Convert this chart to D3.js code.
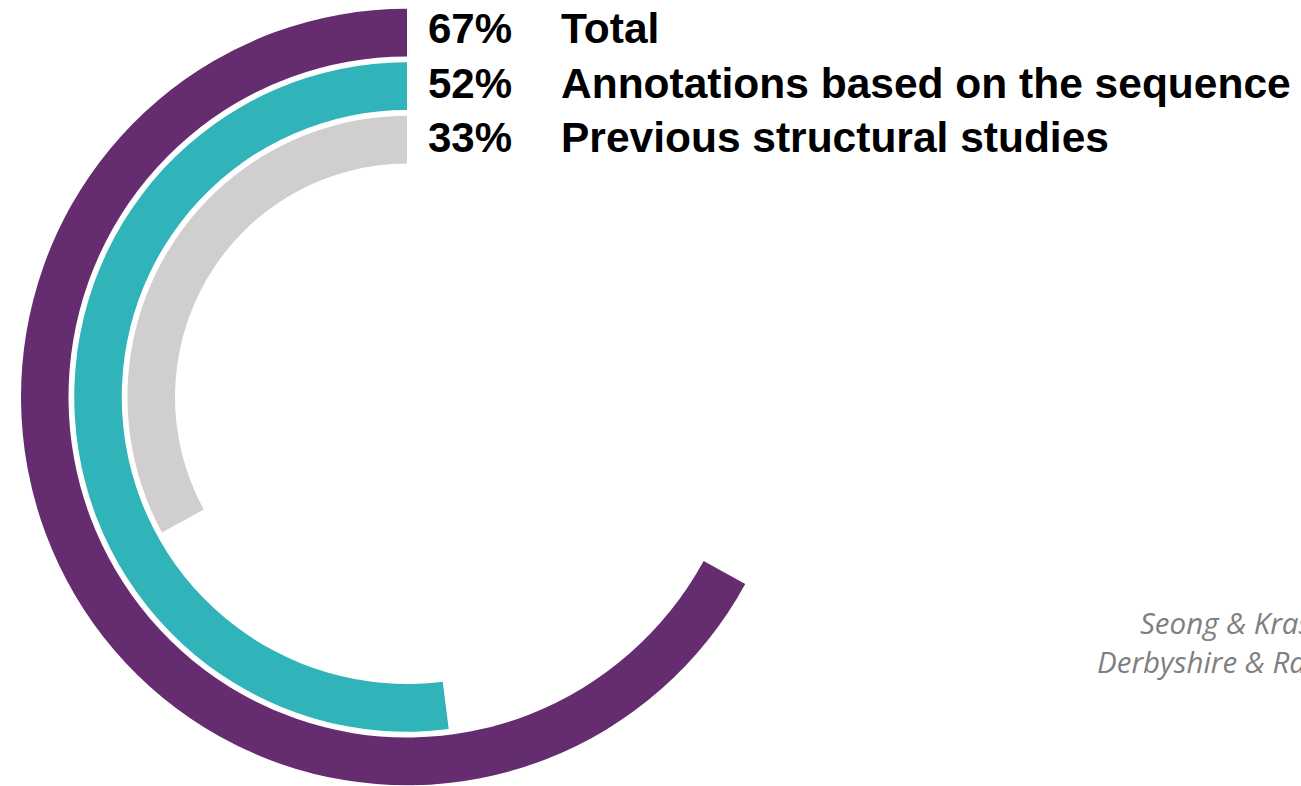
<!DOCTYPE html>
<html>
<head>
<meta charset="utf-8">
<script src="https://cdn.jsdelivr.net/npm/d3@7"></script>
<style>
  html, body { margin: 0; padding: 0; background: #ffffff; overflow: hidden; }
  svg { display: block; }
</style>
</head>
<body>
<svg id="chart" width="1301" height="786"></svg>
<script>
// Share of structures explained, one ring per category
const categories = ["Total", "Annotations based on the sequence", "Previous structural studies"];
const values = [67, 52, 33];
const colors = ["#652d6f", "#30b3b9", "#d0cecf"];
const sources = ["Seong & Krasileva, 2023", "Derbyshire & Raffaele, 2023"];

const svg = d3.select("#chart");
const cx = 407, cy = 397;

// Percent -> angle, rings grow counter-clockwise from 12 o'clock
const angle = d3.scaleLinear().domain([0, 100]).range([0, -2 * Math.PI]);

// One radial band per category, outermost first
const ring = d3.scaleBand()
  .domain(categories)
  .range([386, 232])
  .paddingInner(0.108);

const arc = d3.arc()
  .innerRadius(d => ring(d.cat))
  .outerRadius(d => ring(d.cat) + ring.bandwidth())
  .startAngle(0)
  .endAngle(d => angle(d.value));

const rows = categories.map((c, i) => ({ cat: c, value: values[i], color: colors[i] }));

svg.append("g")
  .attr("transform", `translate(${cx},${cy}) scale(1,1.006)`)
  .selectAll("path")
  .data(rows)
  .join("path")
  .attr("d", arc)
  .attr("fill", d => d.color);

// Legend lines: value then category name
const legendY = d3.scalePoint().domain(categories).range([43, 152]);

const legend = svg.append("g")
  .attr("font-family", "'Liberation Sans', Arial, sans-serif")
  .attr("font-weight", "bold")
  .attr("fill", "#000000");

legend.selectAll("text.pct")
  .data(rows)
  .join("text")
  .attr("class", "pct")
  .attr("x", 428)
  .attr("y", d => legendY(d.cat))
  .attr("font-size", 42)
  .text(d => d.value + "%");

legend.selectAll("text.name")
  .data(rows)
  .join("text")
  .attr("class", "name")
  .attr("x", 561)
  .attr("y", d => legendY(d.cat))
  .attr("font-size", 42.5)
  .text(d => d.cat);

// Source references
svg.append("g")
  .attr("font-family", "'Open Sans', sans-serif")
  .attr("font-style", "italic")
  .attr("font-size", 29.5)
  .attr("fill", "#7f7f7f")
  .selectAll("text")
  .data(sources)
  .join("text")
  .attr("x", (d, i) => [1140, 1097][i])
  .attr("y", (d, i) => [634, 673][i])
  .text(d => d);
</script>
</body>
</html>
